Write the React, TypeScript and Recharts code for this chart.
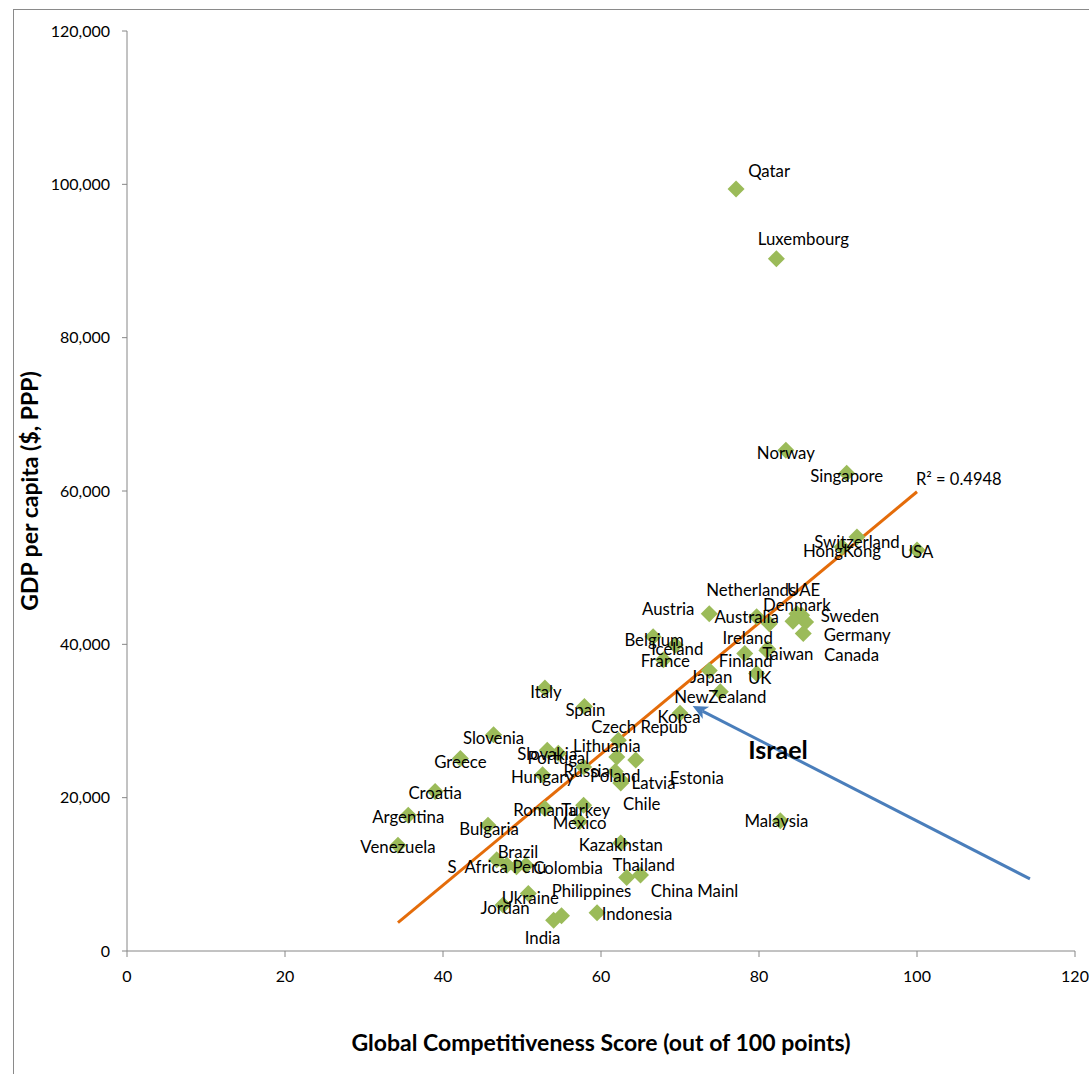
import React from 'react';
import { ScatterChart, Scatter, XAxis, YAxis, ReferenceLine, ReferenceDot } from 'recharts';

const countries = [
  'Qatar', 'Luxembourg', 'Norway', 'Singapore', 'Switzerland', 'HongKong', 'USA',
  'Netherlands', 'UAE', 'Denmark', 'Austria', 'Australia', 'Sweden', 'Germany', 'Canada',
  'Belgium', 'Iceland', 'Ireland', 'France', 'Finland', 'Taiwan', 'Japan', 'UK',
  'NewZealand', 'Korea', 'Italy', 'Spain', 'Czech Repub', 'Slovenia', 'Lithuania',
  'Slovakia', 'Portugal', 'Greece', 'Russia', 'Hungary', 'Poland', 'Latvia', 'Estonia',
  'Croatia', 'Chile', 'Romania', 'Turkey', 'Argentina', 'Mexico', 'Bulgaria', 'Malaysia',
  'Venezuela', 'Kazakhstan', 'Brazil', 'S  Africa', 'Peru', 'Colombia', 'Thailand',
  'China Mainl', 'Ukraine', 'Philippines', 'Jordan', 'Indonesia', 'India',
];

const scores = [
  77.1, 82.2, 83.4, 91.1, 92.4, 90.5, 100.0,
  81.3, 85.4, 84.8, 73.7, 79.7, 84.3, 85.6, 85.9,
  66.6, 69.4, 81.1, 67.9, 78.2, 81.0, 73.7, 79.7,
  75.1, 70.0, 52.9, 57.9, 62.2, 46.4, 62.0,
  53.2, 54.6, 42.2, 57.8, 52.6, 61.8, 62.6, 64.4,
  39.0, 62.5, 52.9, 57.8, 35.6, 57.3, 45.7, 82.7,
  34.3, 62.5, 48.1, 46.8, 49.3, 50.5, 63.25,
  65.0, 50.8, 55.0, 47.6, 59.5, 54.0,
];

const gdp = [
  99400, 90300, 65300, 62300, 54000, 52700, 52300,
  42700, 43800, 44000, 44000, 43600, 43000, 41400, 42900,
  41000, 39900, 39400, 38000, 38800, 39200, 36600, 36200,
  33800, 31000, 34300, 31900, 27500, 28200, 25300,
  26200, 25800, 25100, 24000, 23000, 23400, 22200, 24900,
  20800, 21900, 18600, 19000, 17700, 16900, 16400, 17000,
  13800, 14100, 11200, 11900, 11000, 11200, 9600,
  9900, 7500, 4600, 6000, 5000, 4000,
];

const xTicks = [0, 20, 40, 60, 80, 100, 120];
const yTicks = [0, 20000, 40000, 60000, 80000, 100000, 120000];

const trendX = [34.3, 100];
const trendY = [3700, 59900];
const r2Text = 'R² = 0.4948';

const arrowX = [114.3, 71.6];
const arrowY = [9400, 31950];
const israelText = 'Israel';
const israelX = 82.4;
const israelY = 26350;

const xTitle = 'Global Competitiveness Score (out of 100 points)';
const yTitle = 'GDP per capita ($, PPP)';

// label nudges in pixels (layout only)
const LABEL_OFFSETS: Record<string, [number, number]> = {
  Qatar: [33, -18], Luxembourg: [27, -20], Norway: [0, 2], Singapore: [0, 2],
  Switzerland: [0, 4], HongKong: [0, 4], USA: [0, 1],
  Netherlands: [-18, -34], UAE: [2, -26], Denmark: [0, -9], Austria: [-41, -5],
  Australia: [-10, 0], Sweden: [57, -6], Germany: [54, 1], Canada: [46, 32],
  Belgium: [1, 3], Iceland: [2, 3], Ireland: [-20, -11], France: [2, 1],
  Finland: [1, 7], Taiwan: [21, 3], Japan: [2, 6], UK: [3, 4], NewZealand: [0, 5],
  Korea: [-1, 3], Italy: [1, 3], Spain: [1, 3], 'Czech Repub': [21, -14],
  Slovenia: [0, 3], Lithuania: [-10, -12], Slovakia: [0, 3], Portugal: [0, 4],
  Greece: [0, 3], Russia: [3, 3], Hungary: [0, 2], Poland: [0, 4], Latvia: [32, 2],
  Estonia: [61, 17], Croatia: [0, 1], Chile: [21, 20], Romania: [0, 1], Turkey: [2, 4],
  Argentina: [0, 1], Mexico: [0, 1], Bulgaria: [1, 3], Malaysia: [-4, 0],
  Venezuela: [0, 1], Kazakhstan: [0, 2], Brazil: [11, -14], 'S  Africa': [-19, 7],
  Peru: [13, 0], Colombia: [42, 2], Thailand: [17, -13], 'China Mainl': [54, 15],
  Ukraine: [2, 4], Philippines: [30, -25], Jordan: [2, 2], Indonesia: [40, 1],
  India: [-11, 17],
};

const data = countries.map((name, i) => ({ name, x: scores[i], y: gdp[i] }));

const FONT = 'Lato, "Open Sans", sans-serif';
const AXIS = '#868686';
const GREEN = '#9BBB59';

const Diamond = (props: any) => {
  const { cx, cy } = props;
  if (cx == null || cy == null) return null;
  const r = 8.5;
  return (
    <polygon
      points={`${cx},${cy - r} ${cx + r},${cy} ${cx},${cy + r} ${cx - r},${cy}`}
      fill={GREEN}
    />
  );
};

const PointLabel = (props: any) => {
  const { cx, cy, payload } = props;
  if (cx == null || cy == null || !payload) return null;
  const off = LABEL_OFFSETS[payload.name] || [0, 0];
  return (
    <text
      x={cx + off[0]}
      y={cy + off[1]}
      textAnchor="middle"
      dominantBaseline="central"
      fontFamily={FONT}
      fontSize={16.8}
      fill="#000"
      style={{ whiteSpace: 'pre' }}
    >
      {payload.name}
    </text>
  );
};

const TrendShape = (props: any) => {
  const { x1, y1, x2, y2 } = props;
  return (
    <g>
      <line x1={x1} y1={y1} x2={x2} y2={y2} stroke="#E46C0A" strokeWidth={3} />
      <text x={x2 - 1} y={y2 - 7} fontFamily={FONT} fontSize={16.5} fill="#000">
        {r2Text}
      </text>
    </g>
  );
};

const ArrowShape = (props: any) => {
  const { x1, y1, x2, y2 } = props;
  const dx = x2 - x1;
  const dy = y2 - y1;
  const len = Math.sqrt(dx * dx + dy * dy) || 1;
  const ux = dx / len;
  const uy = dy / len;
  const headLen = 15;
  const headW = 7;
  const bx = x2 - ux * headLen;
  const by = y2 - uy * headLen;
  const nx = -uy;
  const ny = ux;
  return (
    <g>
      <line x1={x1} y1={y1} x2={bx + ux * 4} y2={by + uy * 4} stroke="#4A7EBB" strokeWidth={3} />
      <polygon
        points={`${x2},${y2} ${bx + nx * headW},${by + ny * headW} ${bx + ux * 4},${by + uy * 4} ${bx - nx * headW},${by - ny * headW}`}
        fill="#4A7EBB"
      />
    </g>
  );
};

const IsraelShape = (props: any) => {
  const { cx, cy } = props;
  if (cx == null || cy == null) return null;
  return (
    <text x={cx} y={cy} textAnchor="middle" dominantBaseline="central" fontFamily={FONT} fontWeight={700} fontSize={25} fill="#000">
      {israelText}
    </text>
  );
};

export default function App() {
  return (
    <div style={{ position: 'fixed', left: 0, top: 0, width: 1089, height: 1074, overflow: 'hidden', background: '#fff' }}>
      <div style={{ position: 'absolute', left: 13, top: 9, width: 1300, height: 1300, border: '1px solid #8a8a8a', boxSizing: 'border-box' }} />
      <div style={{ position: 'absolute', left: 0, top: 0 }}>
        <ScatterChart width={1089} height={1074} margin={{ top: 31, right: 14, bottom: 0, left: 0 }}>
          <XAxis
            type="number"
            dataKey="x"
            domain={[0, 120]}
            ticks={xTicks}
            interval={0}
            tickSize={6}
            tickMargin={14}
            height={123}
            stroke={AXIS}
            tick={{ fill: '#000', fontSize: 16, fontFamily: FONT }}
            allowDataOverflow
            label={{ value: xTitle, position: 'insideBottom', offset: 23, style: { fontFamily: FONT, fontSize: 23, fontWeight: 700, fill: '#000' } }}
          />
          <YAxis
            type="number"
            dataKey="y"
            domain={[0, 120000]}
            ticks={yTicks}
            interval={0}
            tickSize={5}
            tickMargin={12}
            width={127}
            stroke={AXIS}
            tick={{ fill: '#000', fontSize: 16, fontFamily: FONT }}
            tickFormatter={(v: number) => v.toLocaleString('en-US')}
            allowDataOverflow
            label={{ value: yTitle, angle: -90, position: 'insideLeft', offset: 30, style: { textAnchor: 'middle', fontFamily: FONT, fontSize: 23, fontWeight: 700, fill: '#000' } }}
          />
          <ReferenceLine
            segment={[{ x: trendX[0], y: trendY[0] }, { x: trendX[1], y: trendY[1] }]}
            shape={TrendShape}
            ifOverflow="visible"
          />
          <Scatter data={data} shape={Diamond} isAnimationActive={false} />
          <Scatter data={data} shape={PointLabel} isAnimationActive={false} />
          <ReferenceLine
            segment={[{ x: arrowX[0], y: arrowY[0] }, { x: arrowX[1], y: arrowY[1] }]}
            shape={ArrowShape}
            ifOverflow="visible"
          />
          <ReferenceDot x={israelX} y={israelY} shape={IsraelShape} ifOverflow="visible" />
        </ScatterChart>
      </div>
    </div>
  );
}
